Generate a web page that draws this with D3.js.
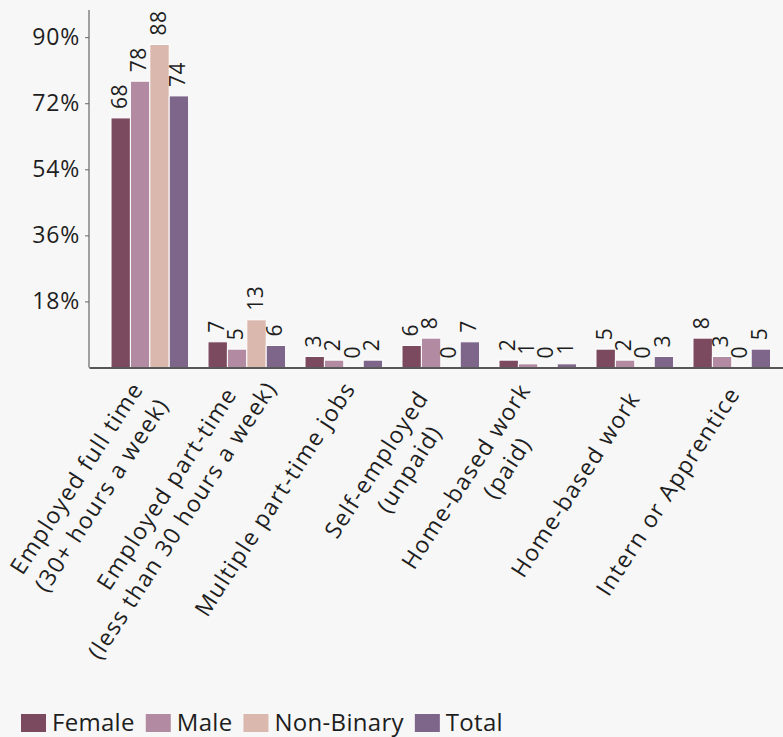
<!DOCTYPE html>
<html>
<head>
<meta charset="utf-8">
<script src="https://cdn.jsdelivr.net/npm/d3@7"></script>
<style>
  html, body { margin: 0; padding: 0; background: #f7f7f7; }
  svg { display: block; font-family: "Open Sans", Lato, sans-serif; }
</style>
</head>
<body>
<svg id="chart" width="783" height="737"></svg>
<script>
// ---- data ----
const categories = [
  "Employed full time\n(30+ hours a week)",
  "Employed part-time\n(less than 30 hours a week)",
  "Multiple part-time jobs",
  "Self-employed\n(unpaid)",
  "Home-based work\n(paid)",
  "Home-based work",
  "Intern or Apprentice"
];
const seriesNames = ["Female", "Male", "Non-Binary", "Total"];
const female    = [68, 7, 3, 6, 2, 5, 8];
const male      = [78, 5, 2, 8, 1, 2, 3];
const nonBinary = [88, 13, 0, 0, 0, 0, 0];
const total     = [74, 6, 2, 7, 1, 3, 5];
const yTicks    = [18, 36, 54, 72, 90];
const colors    = ["#7b4a5e", "#b28aa2", "#dbb8ae", "#7d6689"];

const seriesValues = [female, male, nonBinary, total];
const rows = categories.map((c, i) => ({
  key: String(i), label: c,
  values: seriesNames.map((s, j) => ({ series: s, value: seriesValues[j][i] }))
}));

// ---- layout ----
const FONT = "'Open Sans', Lato, sans-serif";
const TXT = "#1e1e1e";
const svg = d3.select("#chart");
const W = 783, H = 737;
svg.append("rect").attr("width", W).attr("height", H).attr("fill", "#f7f7f7");

const mLeft = 89, mBottom = 367.5, mTop = 10;
const x0 = d3.scaleBand().domain(rows.map(r => r.key))
  .range([mLeft, 792.6]).paddingInner(0.2).paddingOuter(0.227);
const x1 = d3.scaleBand().domain(seriesNames).range([0, x0.bandwidth()]).padding(0);
const y = d3.scaleLinear().domain([0, 97.4]).range([mBottom, mTop]);
const color = d3.scaleOrdinal().domain(seriesNames).range(colors);

// bars
const groups = svg.append("g").selectAll("g").data(rows).join("g")
  .attr("transform", d => `translate(${x0(d.key)},0)`);
groups.selectAll("rect").data(d => d.values).join("rect")
  .attr("x", d => x1(d.series))
  .attr("width", x1.bandwidth())
  .attr("y", d => y(d.value))
  .attr("height", d => y(0) - y(d.value))
  .attr("fill", d => color(d.series))
  .attr("stroke", "#ffffff")
  .attr("stroke-width", 1);

// value labels
groups.selectAll("text.val").data(d => d.values).join("text")
  .attr("class", "val")
  .attr("transform", d => `translate(${x1(d.series) + x1.bandwidth() / 2 + 6},${y(d.value) - 9}) rotate(-90)`)
  .attr("text-anchor", "start")
  .attr("font-size", 21)
  .attr("letter-spacing", 0.5)
  .attr("font-family", FONT)
  .attr("fill", TXT)
  .text(d => d.value);

// y axis
const yAxis = svg.append("g").attr("transform", `translate(${mLeft},0)`)
  .call(d3.axisLeft(y).tickValues(yTicks).tickSize(4).tickPadding(5).tickFormat(d => d + "%"));
yAxis.select(".domain").attr("d", `M0,${mTop}V${mBottom}`).attr("stroke", "#666").attr("stroke-width", 1.2);
yAxis.selectAll(".tick line").attr("stroke", "#666");
yAxis.selectAll(".tick text").attr("font-size", 23).attr("fill", TXT)
  .attr("font-family", FONT).attr("letter-spacing", 0.8);

// x axis
const xAxis = svg.append("g").attr("transform", `translate(0,${mBottom})`)
  .call(d3.axisBottom(x0).tickSize(0).tickFormat(""));
xAxis.select(".domain").attr("stroke", "#222").attr("stroke-width", 1.5);

const angle = -57, lineH = 30, fs = 23;
xAxis.selectAll(".tick").each(function(k) {
  const lines = rows[+k].label.split("\n");
  const n = lines.length;
  const g = d3.select(this).append("g")
    .attr("transform", `translate(-24,62.5) rotate(${angle})`);
  const texts = lines.map((ln, i) => g.append("text")
    .attr("font-size", fs).attr("fill", TXT)
    .attr("font-family", FONT)
    .attr("letter-spacing", 1.3)
    .attr("text-anchor", "middle")
    .attr("y", (i - (n - 1) / 2) * lineH + 8)
    .text(ln));
  const widths = texts.map(t => t.node().getComputedTextLength());
  const Wmax = d3.max(widths);
  texts.forEach((t, i) => t.attr("x", -0.1 * Wmax - 0.2 * widths[i]));
});

// legend
const legend = svg.append("g").attr("transform", "translate(21,731)");
let lx = 0;
seriesNames.forEach(s => {
  const item = legend.append("g").attr("transform", `translate(${lx},0)`);
  item.append("rect").attr("x", 0).attr("y", -17).attr("width", 25).attr("height", 18).attr("fill", color(s));
  const t = item.append("text").attr("x", 31).attr("y", 0)
    .attr("font-size", 24).attr("letter-spacing", 0.3).attr("fill", TXT).attr("font-family", FONT).text(s);
  lx += 31 + t.node().getComputedTextLength() + 11;
});
</script>
</body>
</html>
